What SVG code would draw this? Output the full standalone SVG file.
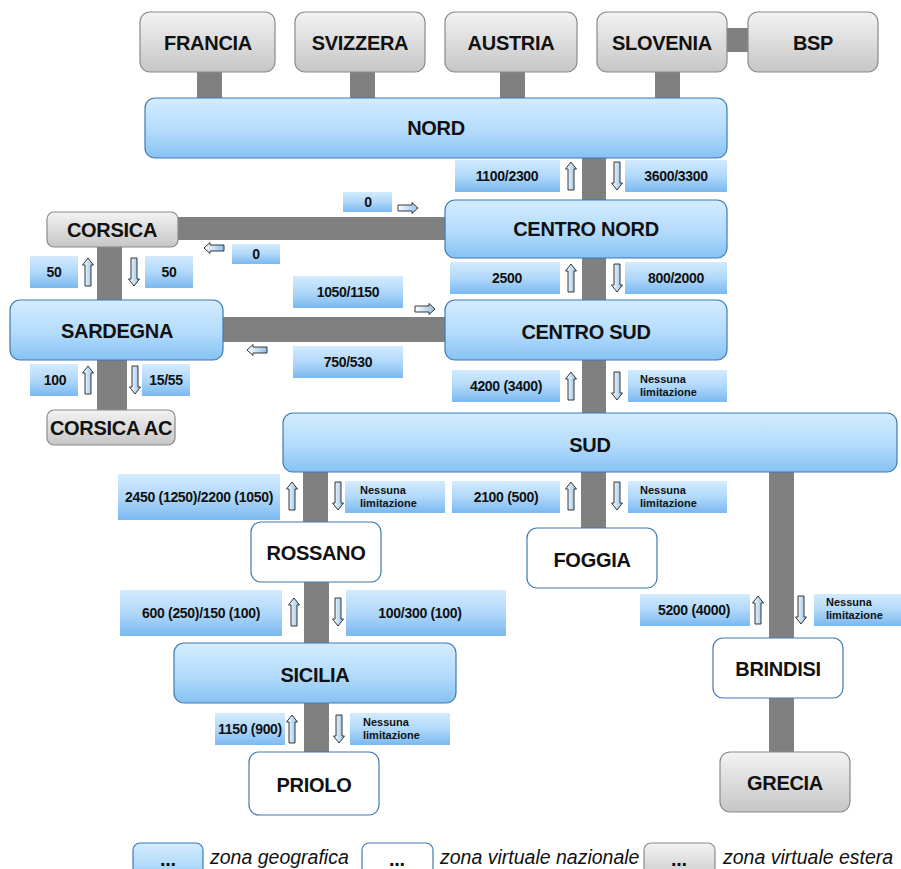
<svg xmlns="http://www.w3.org/2000/svg" width="901" height="869" viewBox="0 0 901 869">
<defs>
<linearGradient id="gBlue" x1="0" y1="0" x2="0" y2="1"><stop offset="0" stop-color="#d4ecfe"/><stop offset="0.55" stop-color="#b3dbfb"/><stop offset="1" stop-color="#86c2f3"/></linearGradient>
<linearGradient id="gGray" x1="0" y1="0" x2="0" y2="1"><stop offset="0" stop-color="#f3f3f3"/><stop offset="1" stop-color="#c6c6c6"/></linearGradient>
<linearGradient id="gLab" x1="0" y1="0" x2="0" y2="1"><stop offset="0" stop-color="#d3ebfe"/><stop offset="0.5" stop-color="#b0d8fa"/><stop offset="1" stop-color="#7ab8f0"/></linearGradient>
<linearGradient id="gArr" x1="0" y1="0" x2="1" y2="0"><stop offset="0" stop-color="#ffffff"/><stop offset="1" stop-color="#8fbfe8"/></linearGradient>
<path id="up" d="M0,-14 L5.5,-7 L3,-7 L3,14 L-3,14 L-3,-7 L-5.5,-7 Z"/>
<path id="dn" d="M0,14 L5.5,7 L3,7 L3,-14 L-3,-14 L-3,7 L-5.5,7 Z"/>
<path id="rt" d="M10,0 L4,-5.5 L4,-3 L-10,-3 L-10,3 L4,3 L4,5.5 Z"/>
<path id="lt" d="M-10,0 L-4,-5.5 L-4,-3 L10,-3 L10,3 L-4,3 L-4,5.5 Z"/>
</defs>
<style>
.blue{fill:url(#gBlue);stroke:#3f79b3;stroke-width:1.2}
.gray{fill:url(#gGray);stroke:#8a8a8a;stroke-width:1.2}
.white{fill:#ffffff;stroke:#3f79b3;stroke-width:1.2}
.bar{fill:#808080}
.lab{fill:url(#gLab)}
.arr{fill:url(#gArr);stroke:#222;stroke-width:0.9}
.nt{font-family:"Liberation Sans",Arial,sans-serif;font-weight:bold;font-size:20px;fill:#111;text-anchor:middle;letter-spacing:-0.3px}
.lt{font-family:"Liberation Sans",Arial,sans-serif;font-weight:bold;font-size:14px;fill:#111;text-anchor:middle;letter-spacing:-0.3px}
.st{font-family:"Liberation Sans",Arial,sans-serif;font-weight:bold;font-size:11px;fill:#111}
.lg{font-family:"Liberation Sans",Arial,sans-serif;font-style:italic;font-size:19.5px;fill:#111}
</style>
<rect width="901" height="869" fill="#ffffff"/>

<g id="connectors">
<rect class="bar" x="197" y="70" width="25" height="30"/>
<rect class="bar" x="350" y="70" width="25" height="30"/>
<rect class="bar" x="500" y="70" width="25" height="30"/>
<rect class="bar" x="655" y="70" width="25" height="30"/>
<rect class="bar" x="725" y="28" width="25" height="24"/>
<rect class="bar" x="582" y="156" width="24" height="46"/>
<rect class="bar" x="176" y="217" width="271" height="23"/>
<rect class="bar" x="97" y="245" width="25" height="57"/>
<rect class="bar" x="582" y="256" width="24" height="46"/>
<rect class="bar" x="221" y="317" width="226" height="25"/>
<rect class="bar" x="97" y="358" width="30" height="54"/>
<rect class="bar" x="582" y="358" width="24" height="57"/>
<rect class="bar" x="303" y="470" width="25" height="54"/>
<rect class="bar" x="581" y="470" width="25" height="60"/>
<rect class="bar" x="769" y="470" width="25" height="170"/>
<rect class="bar" x="304" y="580" width="25" height="65"/>
<rect class="bar" x="769" y="696" width="25" height="58"/>
<rect class="bar" x="304" y="701" width="25" height="53"/>
</g>

<g id="labels">
<rect class="lab" x="455" y="160" width="105" height="32"/><text class="lt" x="507" y="181">1100/2300</text>
<use href="#up" class="arr" x="571" y="176"/>
<use href="#dn" class="arr" x="617" y="176"/>
<rect class="lab" x="625" y="160" width="102" height="32"/><text class="lt" x="676" y="181">3600/3300</text>

<rect class="lab" x="343" y="192" width="49" height="20"/><text class="lt" x="368" y="207">0</text>
<use href="#rt" class="arr" x="408" y="208"/>
<rect class="lab" x="232" y="244" width="48" height="20"/><text class="lt" x="256" y="259">0</text>
<use href="#lt" class="arr" x="214" y="248"/>

<rect class="lab" x="30" y="256" width="48" height="32"/><text class="lt" x="54" y="277">50</text>
<use href="#up" class="arr" x="88" y="272"/>
<use href="#dn" class="arr" x="134" y="272"/>
<rect class="lab" x="145" y="256" width="48" height="32"/><text class="lt" x="169" y="277">50</text>

<rect class="lab" x="450" y="262" width="110" height="32"/><text class="lt" x="507" y="283">2500</text>
<use href="#up" class="arr" x="571" y="278"/>
<use href="#dn" class="arr" x="617" y="278"/>
<rect class="lab" x="625" y="262" width="102" height="32"/><text class="lt" x="676" y="283">800/2000</text>

<rect class="lab" x="293" y="276" width="110" height="32"/><text class="lt" x="348" y="297">1050/1150</text>
<use href="#rt" class="arr" x="425" y="309"/>
<rect class="lab" x="293" y="346" width="110" height="32"/><text class="lt" x="348" y="367">750/530</text>
<use href="#lt" class="arr" x="257" y="350"/>

<rect class="lab" x="30" y="364" width="48" height="32"/><text class="lt" x="55" y="385">100</text>
<use href="#up" class="arr" x="88" y="380"/>
<use href="#dn" class="arr" x="135" y="380"/>
<rect class="lab" x="142" y="364" width="48" height="32"/><text class="lt" x="166" y="385">15/55</text>

<rect class="lab" x="452" y="370" width="108" height="32"/><text class="lt" x="506" y="391">4200 (3400)</text>
<use href="#up" class="arr" x="571" y="386"/>
<use href="#dn" class="arr" x="617" y="386"/>
<rect class="lab" x="628" y="370" width="99" height="32"/><text class="st" x="640" y="383">Nessuna</text><text class="st" x="640" y="396">limitazione</text>

<rect class="lab" x="118" y="474" width="162" height="46"/><text class="lt" x="199" y="502">2450 (1250)/2200 (1050)</text>
<use href="#up" class="arr" x="292" y="496"/>
<use href="#dn" class="arr" x="338" y="496"/>
<rect class="lab" x="345" y="481" width="100" height="32"/><text class="st" x="360" y="494">Nessuna</text><text class="st" x="360" y="507">limitazione</text>

<rect class="lab" x="452" y="481" width="108" height="32"/><text class="lt" x="506" y="502">2100 (500)</text>
<use href="#up" class="arr" x="571" y="496"/>
<use href="#dn" class="arr" x="617" y="496"/>
<rect class="lab" x="628" y="481" width="99" height="32"/><text class="st" x="640" y="494">Nessuna</text><text class="st" x="640" y="507">limitazione</text>

<rect class="lab" x="120" y="590" width="162" height="46"/><text class="lt" x="201" y="618">600 (250)/150 (100)</text>
<use href="#up" class="arr" x="294" y="612"/>
<use href="#dn" class="arr" x="338" y="612"/>
<rect class="lab" x="346" y="590" width="160" height="46"/><text class="lt" x="420" y="618">100/300 (100)</text>

<rect class="lab" x="640" y="594" width="110" height="32"/><text class="lt" x="694" y="615">5200 (4000)</text>
<use href="#up" class="arr" x="758" y="610"/>
<use href="#dn" class="arr" x="801" y="610"/>
<rect class="lab" x="814" y="594" width="87" height="32"/><text class="st" x="826" y="606">Nessuna</text><text class="st" x="826" y="619">limitazione</text>

<rect class="lab" x="215" y="713" width="70" height="32"/><text class="lt" x="250" y="734">1150 (900)</text>
<use href="#up" class="arr" x="292" y="729"/>
<use href="#dn" class="arr" x="339" y="729"/>
<rect class="lab" x="350" y="713" width="100" height="32"/><text class="st" x="363" y="726">Nessuna</text><text class="st" x="363" y="739">limitazione</text>
</g>

<g id="n-francia"><rect class="gray" x="140" y="12" width="135" height="60" rx="10"/><text class="nt" x="208" y="50">FRANCIA</text></g>
<g id="n-svizzera"><rect class="gray" x="295" y="12" width="130" height="60" rx="10"/><text class="nt" x="360" y="50">SVIZZERA</text></g>
<g id="n-austria"><rect class="gray" x="445" y="12" width="132" height="60" rx="10"/><text class="nt" x="511" y="50">AUSTRIA</text></g>
<g id="n-slovenia"><rect class="gray" x="597" y="12" width="130" height="60" rx="10"/><text class="nt" x="662" y="50">SLOVENIA</text></g>
<g id="n-bsp"><rect class="gray" x="748" y="12" width="130" height="60" rx="10"/><text class="nt" x="813" y="50">BSP</text></g>
<g id="n-nord"><rect class="blue" x="145" y="98" width="582" height="60" rx="10"/><text class="nt" x="436" y="135">NORD</text></g>
<g id="n-centronord"><rect class="blue" x="445" y="200" width="282" height="58" rx="10"/><text class="nt" x="586" y="236">CENTRO NORD</text></g>
<g id="n-corsica"><rect class="gray" x="47" y="212" width="131" height="35" rx="7"/><text class="nt" x="112" y="237">CORSICA</text></g>
<g id="n-sardegna"><rect class="blue" x="10" y="300" width="213" height="60" rx="10"/><text class="nt" x="117" y="338">SARDEGNA</text></g>
<g id="n-centrosud"><rect class="blue" x="445" y="300" width="282" height="60" rx="10"/><text class="nt" x="586" y="339">CENTRO SUD</text></g>
<g id="n-corsicaac"><rect class="gray" x="47" y="410" width="128" height="35" rx="7"/><text class="nt" x="111" y="435">CORSICA AC</text></g>
<g id="n-sud"><rect class="blue" x="283" y="413" width="614" height="59" rx="10"/><text class="nt" x="590" y="452">SUD</text></g>
<g id="n-rossano"><rect class="white" x="251" y="522" width="130" height="60" rx="10"/><text class="nt" x="316" y="560">ROSSANO</text></g>
<g id="n-foggia"><rect class="white" x="527" y="528" width="130" height="60" rx="10"/><text class="nt" x="592" y="567">FOGGIA</text></g>
<g id="n-sicilia"><rect class="blue" x="174" y="643" width="282" height="60" rx="10"/><text class="nt" x="315" y="682">SICILIA</text></g>
<g id="n-brindisi"><rect class="white" x="713" y="638" width="130" height="60" rx="10"/><text class="nt" x="778" y="676">BRINDISI</text></g>
<g id="n-grecia"><rect class="gray" x="720" y="752" width="130" height="60" rx="10"/><text class="nt" x="785" y="790">GRECIA</text></g>
<g id="n-priolo"><rect class="white" x="249" y="752" width="130" height="63" rx="10"/><text class="nt" x="314" y="792">PRIOLO</text></g>

<g id="legend">
<rect class="blue" x="133" y="843" width="70" height="40" rx="7"/><text class="nt" x="168" y="866">...</text>
<text class="lg" x="210" y="864">zona geografica</text>
<rect class="white" x="362" y="843" width="71" height="40" rx="7"/><text class="nt" x="397" y="866">...</text>
<text class="lg" x="440" y="864">zona virtuale nazionale</text>
<rect class="gray" x="644" y="843" width="71" height="40" rx="7"/><text class="nt" x="679" y="866">...</text>
<text class="lg" x="723" y="864">zona virtuale estera</text>
</g>
</svg>
